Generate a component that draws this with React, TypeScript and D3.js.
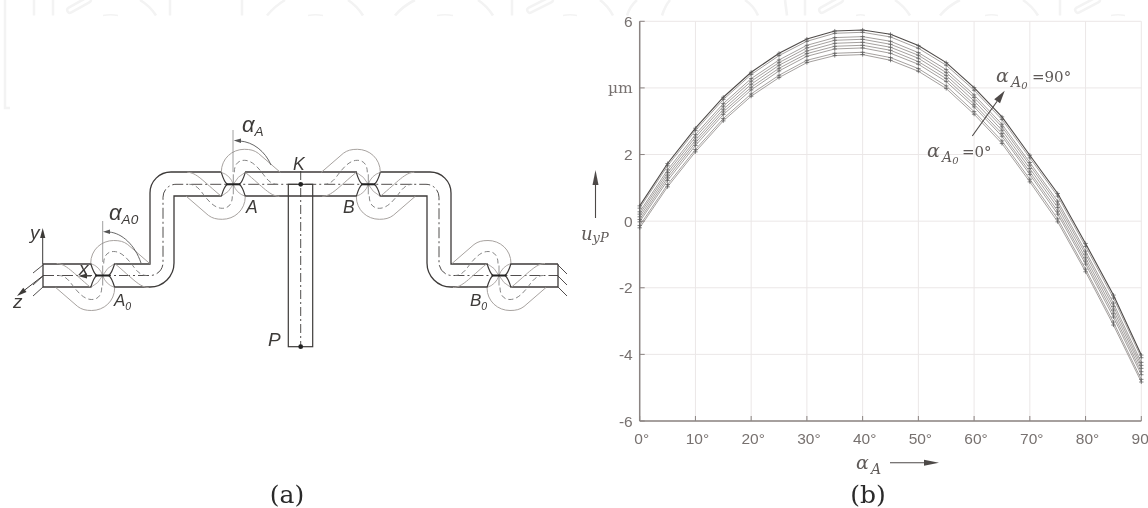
import React from "react";
import * as d3 from "d3";

const xValues = [0, 5, 10, 15, 20, 25, 30, 35, 40, 45, 50, 55, 60, 65, 70, 75, 80, 85, 90];
const c1 = [-0.2, 1.03, 2.08, 3.01, 3.75, 4.31, 4.76, 4.97, 5.0, 4.83, 4.5, 3.98, 3.21, 2.33, 1.18, -0.02, -1.52, -3.12, -4.83];
const c2 = [-0.13, 1.1, 2.15, 3.08, 3.82, 4.38, 4.83, 5.04, 5.07, 4.91, 4.58, 4.06, 3.29, 2.41, 1.26, 0.07, -1.44, -3.03, -4.75];
const c3 = [-0.02, 1.22, 2.27, 3.2, 3.94, 4.51, 4.95, 5.17, 5.2, 5.04, 4.71, 4.19, 3.43, 2.55, 1.4, 0.21, -1.29, -2.88, -4.61];
const c4 = [0.05, 1.3, 2.35, 3.28, 4.02, 4.59, 5.03, 5.25, 5.28, 5.13, 4.79, 4.28, 3.51, 2.63, 1.48, 0.3, -1.2, -2.78, -4.52];
const c5 = [0.13, 1.38, 2.43, 3.36, 4.11, 4.68, 5.11, 5.34, 5.37, 5.22, 4.89, 4.37, 3.61, 2.73, 1.58, 0.41, -1.1, -2.67, -4.42];
const c6 = [0.21, 1.46, 2.52, 3.45, 4.2, 4.76, 5.2, 5.43, 5.46, 5.31, 4.98, 4.46, 3.71, 2.83, 1.68, 0.51, -0.99, -2.56, -4.33];
const c7 = [0.28, 1.54, 2.6, 3.53, 4.28, 4.84, 5.28, 5.51, 5.54, 5.4, 5.06, 4.55, 3.79, 2.91, 1.76, 0.6, -0.9, -2.46, -4.24];
const c8 = [0.39, 1.66, 2.72, 3.65, 4.4, 4.97, 5.4, 5.64, 5.67, 5.53, 5.19, 4.68, 3.93, 3.05, 1.9, 0.75, -0.76, -2.31, -4.1];
const c9 = [0.46, 1.73, 2.79, 3.72, 4.47, 5.04, 5.47, 5.71, 5.74, 5.61, 5.27, 4.76, 4.01, 3.13, 1.98, 0.83, -0.67, -2.22, -4.02];
const curves = [c1, c2, c3, c4, c5, c6, c7, c8, c9];

const xTicks = [0, 10, 20, 30, 40, 50, 60, 70, 80, 90];
const xTickLabels = ["0°", "10°", "20°", "30°", "40°", "50°", "60°", "70°", "80°", "90°"];
const yTicks = [-6, -4, -2, 0, 2, 4, 6];
const yTickLabels = ["-6", "-4", "-2", "0", "2", "µm", "6"];

const x = d3.scaleLinear().domain([0, 90]).range([639.7, 1141.3]);
const y = d3.scaleLinear().domain([-6, 6]).range([421, 21.3]);

const AXIS = "#8b8482";
const GRID = "#ebe7e7";
const LABEL = "#77716f";
const DIAGRAM = "#3d3a39";
const SOFT = "#a8a3a0";
const WM = "#f3f3f3";
const SANS = "'Liberation Sans', Arial, sans-serif";
const SERIF = "'DejaVu Serif', serif";

type P = [number, number, number?];

const upperRuns: P[][] = [
  [[43, 264], [91, 264]],
  [[115, 264], [150, 264], [150, 172, 21], [221, 172]],
  [[245, 172], [357, 172]],
  [[380, 172], [451, 172, 21], [451, 264], [487, 264]],
  [[511, 264], [558, 264]],
];
const lowerRuns: P[][] = [
  [[43, 287], [91, 287]],
  [[115, 287], [174, 287, 24], [174, 196], [221, 196]],
  [[245, 196], [357, 196]],
  [[380, 196], [427, 196], [427, 287, 24], [487, 287]],
  [[511, 287], [558, 287]],
];
const endCaps: P[][] = [
  [[43, 264], [43, 287]],
  [[558, 264], [558, 287]],
];
const centreRun: P[] = [[43, 275.5], [163, 275.5, 13], [163, 184.3, 13], [439, 184.3, 13], [439, 275.5, 13], [558, 275.5]];
const joints: { x: number; y: number; flip: boolean }[] = [
  { x: 102.7, y: 275.5, flip: false },
  { x: 233.3, y: 184.3, flip: false },
  { x: 368.3, y: 184.3, flip: true },
  { x: 499, y: 275.5, flip: true },
];
const hatches: [number, number, number, number][] = [
  [33, 273, 43, 265], [33, 285, 43, 276], [33, 296, 43, 287],
  [558, 265, 567, 274], [558, 276, 567, 285], [558, 287, 567, 296],
];

const wmArcs: string[] = [
  "M34,0V15.5", "M53,0V15.5", "M156,15.5Q150,6 140,0", "M170,0V15.5", "M242,0V15.5", "M267,15.5Q275,6 285,0",
  "M363,15.5Q357,6 348,0", "M395,15.5Q403,6 415,0", "M493,15.5Q487,6 478,0", "M512,0V15.5",
  "M613,15.5Q608,6 600,0", "M627,15.5Q630,6 637,0", "M662,15.5Q665,6 670,0", "M758,15.5Q754,6 745,0",
  "M785,0L787,15.5", "M805,0V15.5", "M910,15.5Q904,6 895,0", "M940,15.5Q948,6 960,0",
  "M1038,15.5Q1032,6 1023,0", "M1060,0V15.5", "M5,0V108H10",
];
const wmCaps: [number, number][] = [[103, 118], [308, 323], [437, 453], [563, 577], [856, 865], [985, 998], [1111, 1125]];
const wmPills: [number, number, number, number][] = [[70, 10, 88, 0], [530, 10, 550, 0], [822, 10, 840, 0], [1078, 10, 1097, 0]];

function runPath(pts: P[]): string {
  const p = d3.path();
  p.moveTo(pts[0][0], pts[0][1]);
  for (let i = 1; i < pts.length; i++) {
    const [px, py, r] = pts[i];
    const next = pts[i + 1];
    if (r && next) p.arcTo(px, py, next[0], next[1], r);
    else p.lineTo(px, py);
  }
  return p.toString();
}

const curveLine = (vals: number[]) =>
  d3.line<number>().x((_, i) => x(xValues[i])).y((v) => y(v))(vals) ?? "";

function HalfJoint() {
  return (
    <g>
      <path d="M-12,-12C-12,-26 -1,-35 11,-35C17,-35 21,-34 25,-31L47,-12" fill="none" stroke={SOFT} strokeWidth={1} />
      <path d="M12,-12C30,3 37,12 46,12" fill="none" stroke={SOFT} strokeWidth={1} />
      <path d="M1,-12C1,-20 5,-24 11,-24C18,-24 24,-18 30,-10C33,-6 37,0 44,0" fill="none" stroke="#777" strokeWidth={0.9} strokeDasharray="5 3" />
      <path d="M12,-12Q4,-8 0,0M-12,-12Q-3,-9 0,0" fill="none" stroke={SOFT} strokeWidth={0.9} />
      <path d="M-12,-12Q-9,-2 -6,0M12,-12Q9,-2 6,0" fill="none" stroke={DIAGRAM} strokeWidth={1.2} />
      <path d="M0,-10V0" stroke="#777" strokeWidth={0.8} />
    </g>
  );
}

function Arrow({ x1, y1, x2, y2, color = "#4d4947", len = 16, half = 3.2, w = 1 }: { x1: number; y1: number; x2: number; y2: number; color?: string; len?: number; half?: number; w?: number }) {
  const a = Math.atan2(y2 - y1, x2 - x1);
  const bx = x2 - len * Math.cos(a);
  const by = y2 - len * Math.sin(a);
  const nx = -Math.sin(a) * half;
  const ny = Math.cos(a) * half;
  return (
    <g>
      <line x1={x1} y1={y1} x2={bx} y2={by} stroke={color} strokeWidth={w} />
      <polygon points={`${x2},${y2} ${bx + nx},${by + ny} ${bx - nx},${by - ny}`} fill={color} />
    </g>
  );
}

function DLabel({ x: tx, y: ty, t, sub, size = 17.5 }: { x: number; y: number; t: string; sub?: string; size?: number }) {
  return (
    <text x={tx} y={ty} fontFamily={SANS} fontStyle="italic" fontSize={size} fill={DIAGRAM}>
      {t}
      {sub ? <tspan dy={4} fontSize={size * 0.62}>{sub}</tspan> : null}
    </text>
  );
}

function SerifAlpha({ x: tx, y: ty, sub, subSub, rest, restX }: { x: number; y: number; sub: string; subSub?: string; rest?: string; restX?: number }) {
  return (
    <g fontFamily={SERIF} fill="#5f5a58">
      <text x={tx} y={ty} fontSize={19} fontStyle="italic">α</text>
      <text x={tx + 15} y={ty + 5} fontSize={14} fontStyle="italic">
        {sub}
        {subSub ? <tspan fontSize={10} dy={2}>{subSub}</tspan> : null}
      </text>
      {rest ? <text x={restX} y={ty} fontSize={15}>{rest}</text> : null}
    </g>
  );
}

export default function App() {
  return (
    <svg width={1148} height={508} style={{ position: "absolute", left: 0, top: 0, background: "#fff" }}>
      <defs>
        <filter id="soft" x="0" y="0" width="100%" height="100%" filterUnits="objectBoundingBox">
          <feGaussianBlur stdDeviation="0.35" />
        </filter>
      </defs>

      <g filter="url(#soft)">
        <rect x={0} y={0} width={1148} height={508} fill="#fff" />

        {/* watermark */}
        <g fill="none" stroke={WM} strokeWidth={2.6}>
          {wmArcs.map((d, i) => <path key={i} d={d} />)}
          {wmCaps.map(([a, b], i) => <path key={i} d={`M${a},15.5Q${(a + b) / 2},14 ${b},15.5`} strokeWidth={1.6} />)}
          {wmPills.map(([a, b, c, d], i) => (
            <g key={i}>
              <line x1={a} y1={b} x2={c} y2={d} strokeWidth={8} strokeLinecap="round" />
              <line x1={a} y1={b} x2={c} y2={d} strokeWidth={3} strokeLinecap="round" stroke="#fff" />
            </g>
          ))}
        </g>

        {/* (a) schematic */}
        <g fill="none" stroke={DIAGRAM} strokeWidth={1.3}>
          {[...upperRuns, ...lowerRuns, ...endCaps].map((r, i) => <path key={i} d={runPath(r)} />)}
        </g>
        <path d={runPath(centreRun)} fill="none" stroke={DIAGRAM} strokeWidth={0.9} strokeDasharray="11 3 2 3" />
        {joints.map((j, i) => (
          <g key={i} transform={`translate(${j.x},${j.y}) scale(${j.flip ? -1 : 1},1)`}>
            <HalfJoint />
            <g transform="rotate(180)"><HalfJoint /></g>
            <line x1={-7} x2={7} y1={0} y2={0} stroke="#222" strokeWidth={2} />
          </g>
        ))}
        <rect x={288.3} y={184.3} width={24.4} height={162.4} fill="none" stroke={DIAGRAM} strokeWidth={1.2} />
        <line x1={300.7} x2={300.7} y1={171} y2={346.7} stroke={DIAGRAM} strokeWidth={0.9} strokeDasharray="9 3 2 3" />
        <circle cx={300.7} cy={184.3} r={2.4} fill="#222" />
        <circle cx={300.7} cy={346.7} r={2.4} fill="#222" />
        {hatches.map(([a, b, c, d], i) => <line key={i} x1={a} y1={b} x2={c} y2={d} stroke={DIAGRAM} strokeWidth={0.9} />)}
        <Arrow x1={42.7} y1={264} x2={42.7} y2={228} color={DIAGRAM} len={10} half={2.6} />
        <Arrow x1={42.7} y1={276} x2={17} y2={296} color={DIAGRAM} len={10} half={2.6} />
        <Arrow x1={91} y1={276} x2={78} y2={276} color={DIAGRAM} len={9} half={2.6} />
        <line x1={102.7} x2={102.7} y1={221} y2={262} stroke="#888" strokeWidth={0.8} />
        <line x1={233} x2={233} y1={130} y2={172} stroke="#888" strokeWidth={0.8} />
        <path d="M109,232C122,233 135,245 141,263" fill="none" stroke="#555" strokeWidth={0.9} />
        <polygon points="103,231.7 110,229.5 110,234" fill="#555" />
        <path d="M240,141C253,142 265,151 271,165" fill="none" stroke="#555" strokeWidth={0.9} />
        <polygon points="233.7,140.6 241,138.4 241,143" fill="#555" />
        <DLabel x={242} y={131.5} t="α" sub="A" size={22} />
        <DLabel x={109} y={220} t="α" sub="A0" size={22} />
        <DLabel x={30} y={239} t="y" size={19} />
        <DLabel x={13} y={308} t="z" size={19} />
        <DLabel x={79} y={275} t="x" size={19} />
        <DLabel x={114} y={306} t="A" sub="0" size={17} />
        <DLabel x={246} y={213} t="A" />
        <DLabel x={343} y={213} t="B" />
        <DLabel x={470} y={306} t="B" sub="0" size={17} />
        <DLabel x={293} y={170} t="K" />
        <DLabel x={268} y={346} t="P" size={19} />

        {/* (b) grid */}
        {xTicks.map((t) => <line key={t} x1={x(t)} x2={x(t)} y1={y(6)} y2={y(-6)} stroke={GRID} strokeWidth={1} />)}
        {yTicks.map((t) => <line key={t} x1={x(0)} x2={x(90)} y1={y(t)} y2={y(t)} stroke={GRID} strokeWidth={1} />)}

        {/* axes */}
        <line x1={x(0)} x2={x(0)} y1={y(6)} y2={y(-6)} stroke={AXIS} strokeWidth={1.5} />
        <line x1={x(0)} x2={x(90)} y1={y(-6)} y2={y(-6)} stroke={AXIS} strokeWidth={1.5} />
        {xTicks.map((t) => <line key={t} x1={x(t)} x2={x(t)} y1={y(-6)} y2={y(-6) - 5} stroke={AXIS} strokeWidth={1} />)}
        {yTicks.map((t) => <line key={t} x1={x(0)} x2={x(0) + 5} y1={y(t)} y2={y(t)} stroke={AXIS} strokeWidth={1} />)}
        {xTicks.map((t, i) => (
          <text key={t} x={x(t) + 2} y={444} textAnchor="middle" fontFamily={SANS} fontSize={15.5} fill={LABEL}>{xTickLabels[i]}</text>
        ))}
        {yTicks.map((t, i) => (
          <text key={t} x={632.7} y={y(t) + 5.5} textAnchor="end" fontFamily={yTickLabels[i] === "µm" ? SERIF : SANS} fontSize={15.5} fill={LABEL}>{yTickLabels[i]}</text>
        ))}

        {/* curves */}
        {curves.map((c, i) => {
          const isTop = i === curves.length - 1;
          return (
            <g key={i}>
              <path d={curveLine(c)} fill="none" stroke={isTop ? "#4f4b49" : "#85807e"} strokeWidth={isTop ? 1.1 : 0.75} />
              {c.map((v, k) => (
                <path key={k} d={`M${x(xValues[k]) - 2.2},${y(v)}h4.4M${x(xValues[k])},${y(v) - 2}v4`} stroke="#555" strokeWidth={0.7} />
              ))}
            </g>
          );
        })}

        {/* annotations */}
        <Arrow x1={972.3} y1={136} x2={1004.7} y2={90.7} len={13} half={3.6} w={1.1} />
        <SerifAlpha x={996} y={82} sub="A" subSub="0" rest="=90°" restX={1032} />
        <SerifAlpha x={927} y={157} sub="A" subSub="0" rest="=0°" restX={962} />
        <SerifAlpha x={856} y={469} sub="A" />
        <Arrow x1={890} y1={462.7} x2={939} y2={462.7} len={15} half={3} w={1.1} />
        <Arrow x1={595.5} y1={218} x2={595.5} y2={170} len={15} half={3} w={1.1} />
        <text x={581} y={240} fontFamily={SERIF} fontStyle="italic" fontSize={18} fill="#5f5a58">
          u<tspan fontSize={13} dy={2}>yP</tspan>
        </text>

        {/* panel captions */}
        <text x={287} y={503} textAnchor="middle" fontFamily={SERIF} fontSize={25} fill="#2b2b2b">(a)</text>
        <text x={868} y={503} textAnchor="middle" fontFamily={SERIF} fontSize={25} fill="#2b2b2b">(b)</text>
      </g>
    </svg>
  );
}
